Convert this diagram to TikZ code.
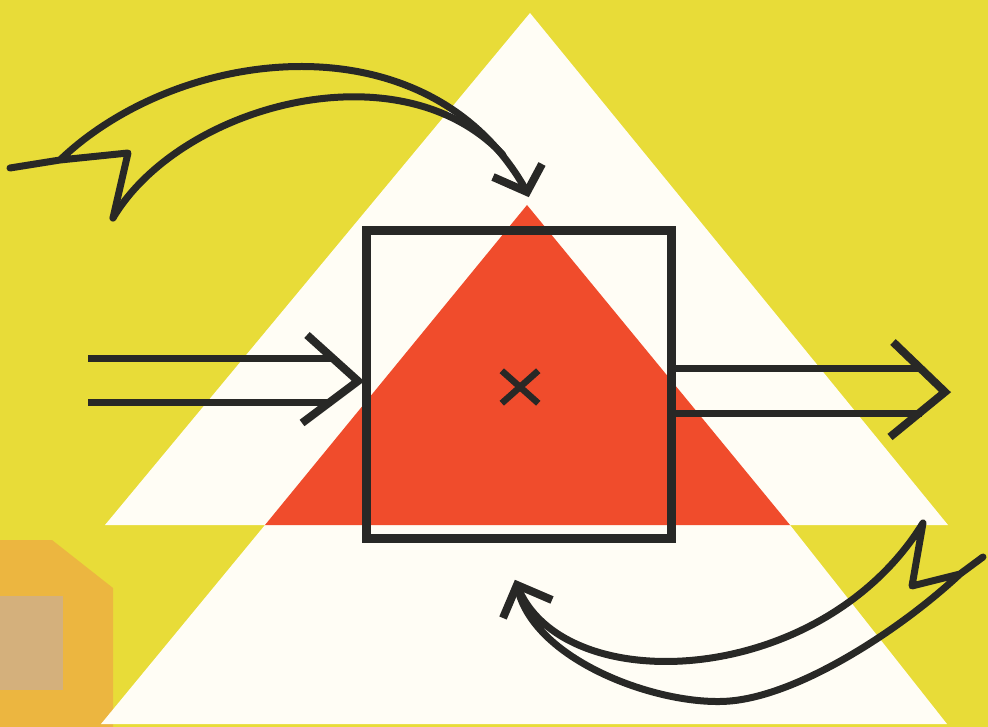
\documentclass[tikz,border=0pt]{standalone}
\usetikzlibrary{shapes.misc,calc}
\definecolor{bgyellow}{RGB}{232,220,56}
\definecolor{trired}{RGB}{240,76,44}
\definecolor{paper}{RGB}{255,253,245}
\definecolor{ink}{RGB}{40,40,38}
\definecolor{tape}{RGB}{236,182,64}
\definecolor{tapein}{RGB}{212,176,124}
\begin{document}
\begin{tikzpicture}[x=1pt,y=-1pt,
  inkline/.style={draw=ink,line width=7pt,line cap=butt,line join=miter},
  ribbon/.style={draw=ink,line width=7pt,line join=round,line cap=round},
  headline/.style={draw=ink,line width=8pt,line cap=butt,line join=miter}]
\useasboundingbox (0,0) rectangle (988,727);
% background
\fill[bgyellow] (0,0) rectangle (988,727);
% tape
\fill[tape] (0,540) -- (52,540) -- (113,588) -- (113,727) -- (0,727) -- cycle;
\fill[tapein] (0,596) rectangle (63,690);
% triangles
\fill[paper] (101,724) -- (265,525) -- (790,525) -- (947,724) -- cycle;
\fill[paper] (530,13) -- (948,525) -- (105,525) -- cycle;
\fill[trired] (527,205) -- (790,525) -- (265,525) -- cycle;
% box
\node[draw=ink,line width=9pt,minimum width=305pt,minimum height=307pt,
      inner sep=0pt,outer sep=0pt] (box) at (518.5,384.5) {};
% cross
\node[cross out,draw=ink,line width=6.5pt,minimum width=30pt,minimum height=26pt,
      inner sep=0pt] (x) at (520,387) {};
% left double arrow
\coordinate (ltip) at ($(box.west)+(-8,-3.5)$);
\coordinate (la1) at (88,358);
\coordinate (la2) at (88,402);
\draw[inkline] (la1) -- (334,358);
\draw[inkline] (la2) -- (332,402);
\draw[headline] (307,335) -- (ltip) -- (302,423);
% right double arrow
\coordinate (ra1) at ($(box.east)+(0,-16.5)$);
\coordinate (ra2) at ($(box.east)+(0,28.5)$);
\coordinate (rtip) at (945,392);
\draw[inkline] (ra1) -- (922,368);
\draw[inkline] (ra2) -- (922,413);
\draw[headline] (893,342) -- (rtip) -- (890,437);
% top curved ribbon arrow
\coordinate (ttip) at (527,192);
\coordinate (tj) at (60,160);
\draw[ribbon] (113,218) -- (128,153) -- (tj) -- (10,168) -- (tj)
  .. controls (180,45) and (430,15) .. (ttip);
\draw[ribbon] (113,218) .. controls (180,105) and (400,45) .. (503,155);
\draw[headline] (493,177) -- (ttip) -- (542,164);
% bottom curved ribbon arrow
\coordinate (btip) at (517,585);
\coordinate (bj) at (960,574);
\draw[ribbon] (btip) .. controls (560,700) and (820,690) .. (923,523)
  -- (912,586) -- (bj) -- (983,557) -- (bj)
  .. controls (900,630) and (800,695) .. (730,701)
  .. controls (660,707) and (530,660) .. (btip);
\draw[headline] (503,618) -- (btip) -- (552,600);
\end{tikzpicture}
\end{document}
